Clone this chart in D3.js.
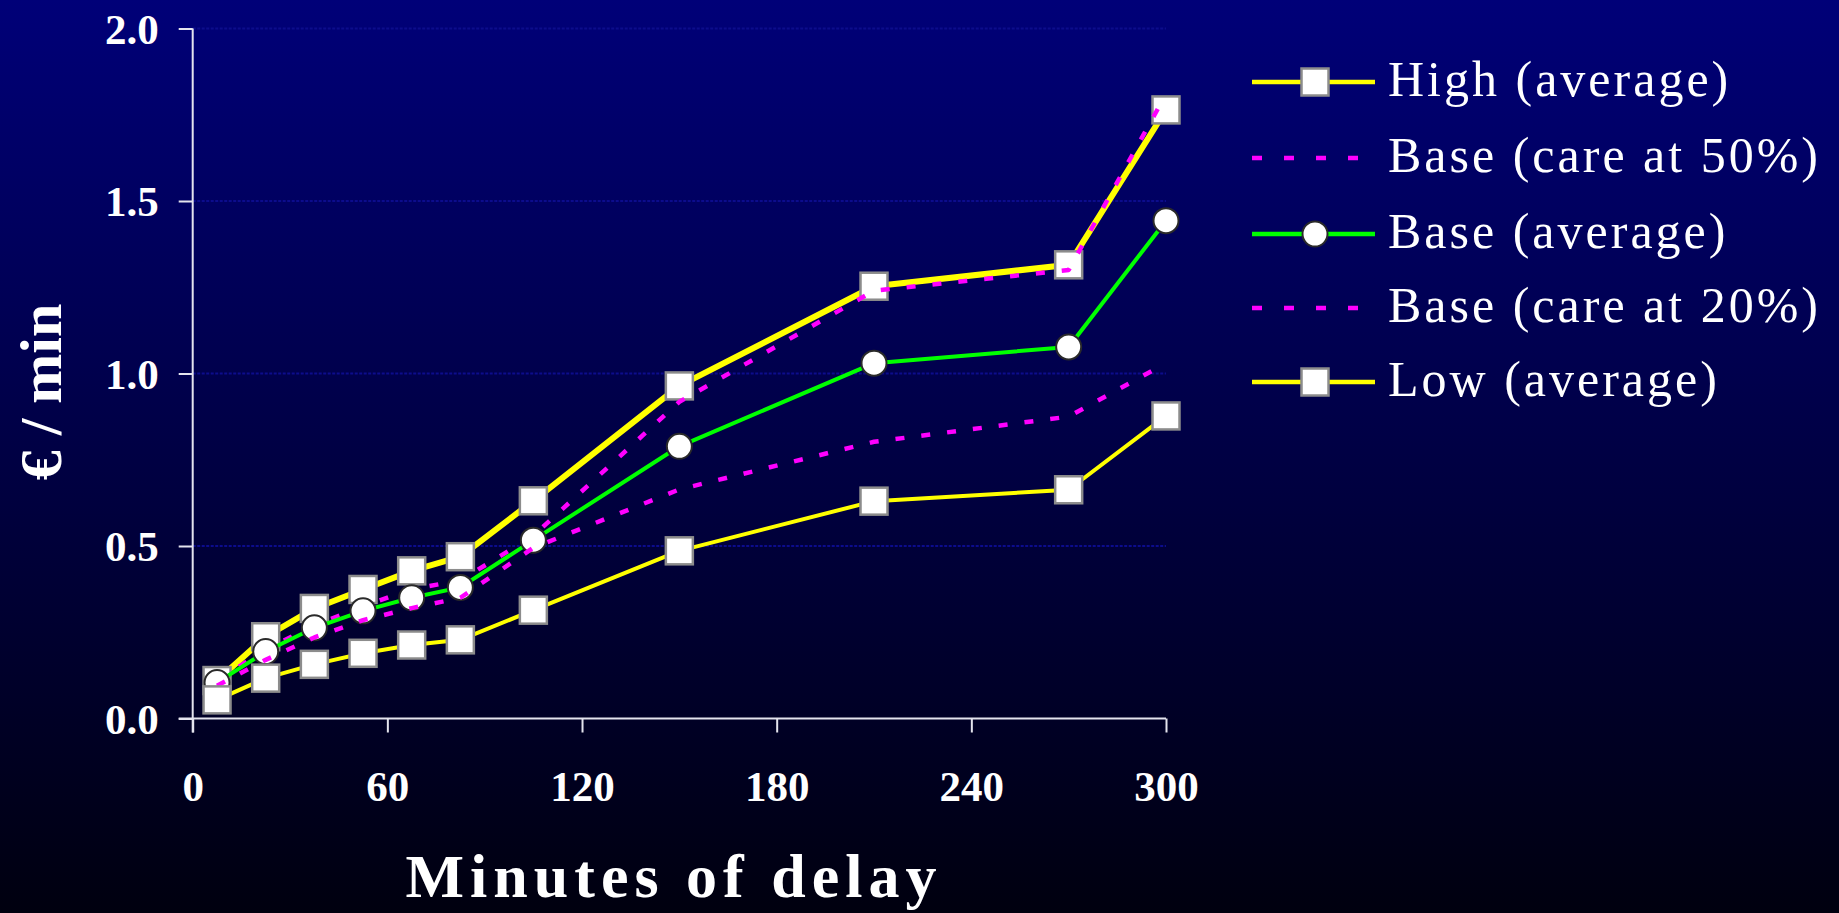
<!DOCTYPE html>
<html>
<head>
<meta charset="utf-8">
<script src="https://cdn.jsdelivr.net/npm/d3@7"></script>
<style>
  html, body { margin: 0; padding: 0; background: #000010; }
  svg { display: block; }
  text { font-family: "Times New Roman", "Liberation Serif", serif; fill: #ffffff; }
</style>
</head>
<body>
<svg id="chart" width="1839" height="913"></svg>
<script>
// Delay bins (midpoints, minutes)
const minutes = [7.5, 22.5, 37.5, 52.5, 67.5, 82.5, 105, 150, 210, 270, 300];

// Cost per minute of delay (€ / min)
const highAverage  = [0.11, 0.237, 0.319, 0.374, 0.428, 0.469, 0.631, 0.964, 1.253, 1.315, 1.764];
const baseCare50   = [0.11, 0.20, 0.27, 0.325, 0.375, 0.40, 0.53, 0.918, 1.24, 1.30, 1.81];
const baseAverage  = [0.104, 0.194, 0.263, 0.312, 0.35, 0.38, 0.517, 0.789, 1.03, 1.077, 1.443];
const baseCare20   = [0.095, 0.17, 0.235, 0.285, 0.32, 0.35, 0.495, 0.664, 0.802, 0.875, 1.03];
const lowAverage   = [0.054, 0.117, 0.157, 0.189, 0.213, 0.228, 0.314, 0.486, 0.63, 0.663, 0.877];

const xTicks = [0, 60, 120, 180, 240, 300];
const yTicks = [0.0, 0.5, 1.0, 1.5, 2.0];

const seriesNames = ["High (average)", "Base (care at 50%)", "Base (average)", "Base (care at 20%)", "Low (average)"];

const series = [
  { name: seriesNames[0], values: highAverage, color: "#ffff00", width: 6, dash: null, marker: "square" },
  { name: seriesNames[1], values: baseCare50,  color: "#ff00ff", width: 4.5, dash: "9,17", marker: null },
  { name: seriesNames[2], values: baseAverage, color: "#00ff00", width: 4, dash: null, marker: "circle" },
  { name: seriesNames[3], values: baseCare20,  color: "#ff00ff", width: 4.5, dash: "9,17", marker: null },
  { name: seriesNames[4], values: lowAverage,  color: "#ffff00", width: 4, dash: null, marker: "square" }
];

const svg = d3.select("#chart");

// Background: navy fading to near-black
const defs = svg.append("defs");
const grad = defs.append("linearGradient").attr("id", "bg").attr("x1", 0).attr("y1", 0).attr("x2", 0).attr("y2", 1);
grad.append("stop").attr("offset", "0%").attr("stop-color", "#000078");
grad.append("stop").attr("offset", "100%").attr("stop-color", "#00000f");
svg.append("rect").attr("width", 1839).attr("height", 913).attr("fill", "url(#bg)");

const x = d3.scaleLinear().domain([0, 300]).range([192.7, 1166]);
const y = d3.scaleLinear().domain([0, 2]).range([718.5, 28.5]);

// Faint dotted horizontal gridlines
svg.append("g")
  .selectAll("line")
  .data(yTicks.filter(d => d > 0))
  .join("line")
  .attr("x1", x(0)).attr("x2", x(300))
  .attr("y1", d => y(d)).attr("y2", d => y(d))
  .attr("stroke", "#0c0c8c")
  .attr("stroke-width", 2)
  .attr("stroke-dasharray", "3,1.5");

// Axes
const axisColor = "#e4e4ee";
const yAxis = svg.append("g")
  .attr("transform", `translate(${x(0)},0)`)
  .call(d3.axisLeft(y).tickValues(yTicks).tickFormat(d3.format(".1f")).tickSize(14).tickPadding(20));
const xAxis = svg.append("g")
  .attr("transform", `translate(0,${y(0)})`)
  .call(d3.axisBottom(x).tickValues(xTicks).tickFormat(d3.format("d")).tickSize(14).tickPadding(0));

[yAxis, xAxis].forEach(g => {
  g.select(".domain").attr("stroke", axisColor).attr("stroke-width", 2);
  g.selectAll(".tick line").attr("stroke", axisColor).attr("stroke-width", 2);
  g.selectAll(".tick text")
    .attr("fill", "#ffffff")
    .style("font-family", "'Times New Roman', 'Liberation Serif', serif")
    .style("font-weight", "bold")
    .style("font-size", "43px");
});
yAxis.select(".domain").attr("d", `M0,${y(2)}V${y(0) + 14}`);
xAxis.select(".domain").attr("d", `M${x(0) - 14},0H${x(300)}`);
yAxis.selectAll(".tick text").attr("dy", "0.34em");
xAxis.selectAll(".tick text").attr("dy", null).attr("y", 82);

// Series lines and markers, drawn in legend order
const line = d3.line().x((d, i) => x(minutes[i])).y(d => y(d));
const sq = 27, r = 12.5;

function drawMarker(g, kind, cx, cy) {
  if (kind === "square") {
    g.append("rect")
      .attr("x", cx - sq / 2).attr("y", cy - sq / 2)
      .attr("width", sq).attr("height", sq)
      .attr("fill", "#ffffff").attr("stroke", "#8c8c8c").attr("stroke-width", 2.5);
  } else if (kind === "circle") {
    g.append("circle")
      .attr("cx", cx).attr("cy", cy).attr("r", r)
      .attr("fill", "#ffffff").attr("stroke", "#2a2a2a").attr("stroke-width", 2);
  }
}

series.forEach(s => {
  const g = svg.append("g");
  g.append("path")
    .attr("d", line(s.values))
    .attr("fill", "none")
    .attr("stroke", s.color)
    .attr("stroke-width", s.width)
    .attr("stroke-dasharray", s.dash)
    .attr("stroke-linejoin", "round");
  if (s.marker) {
    s.values.forEach((v, i) => drawMarker(g, s.marker, x(minutes[i]), y(v)));
  }
});

// Legend
const legendRows = [82, 158, 234, 308, 382];
const legend = svg.append("g");
series.forEach((s, i) => {
  const ly = legendRows[i];
  const g = legend.append("g");
  g.append("line")
    .attr("x1", 1252).attr("x2", 1375)
    .attr("y1", ly).attr("y2", ly)
    .attr("stroke", s.color)
    .attr("stroke-width", s.dash ? 4.5 : 4.5)
    .attr("stroke-dasharray", s.dash ? "10,22" : null);
  if (s.marker) drawMarker(g, s.marker, 1315, ly);
  g.append("text")
    .attr("x", 1388).attr("y", ly + 14)
    .style("font-size", "50px")
    .style("letter-spacing", "3px")
    .text(s.name);
});

// Axis titles
svg.append("text")
  .attr("transform", `translate(61,392) rotate(-90)`)
  .attr("text-anchor", "middle")
  .style("font-size", "60px")
  .style("font-weight", "bold")
  .text("€ / min");

svg.append("text")
  .attr("x", 674).attr("y", 897)
  .attr("text-anchor", "middle")
  .style("font-size", "62px")
  .style("font-weight", "bold")
  .style("letter-spacing", "6px")
  .text("Minutes of delay");
</script>
</body>
</html>
